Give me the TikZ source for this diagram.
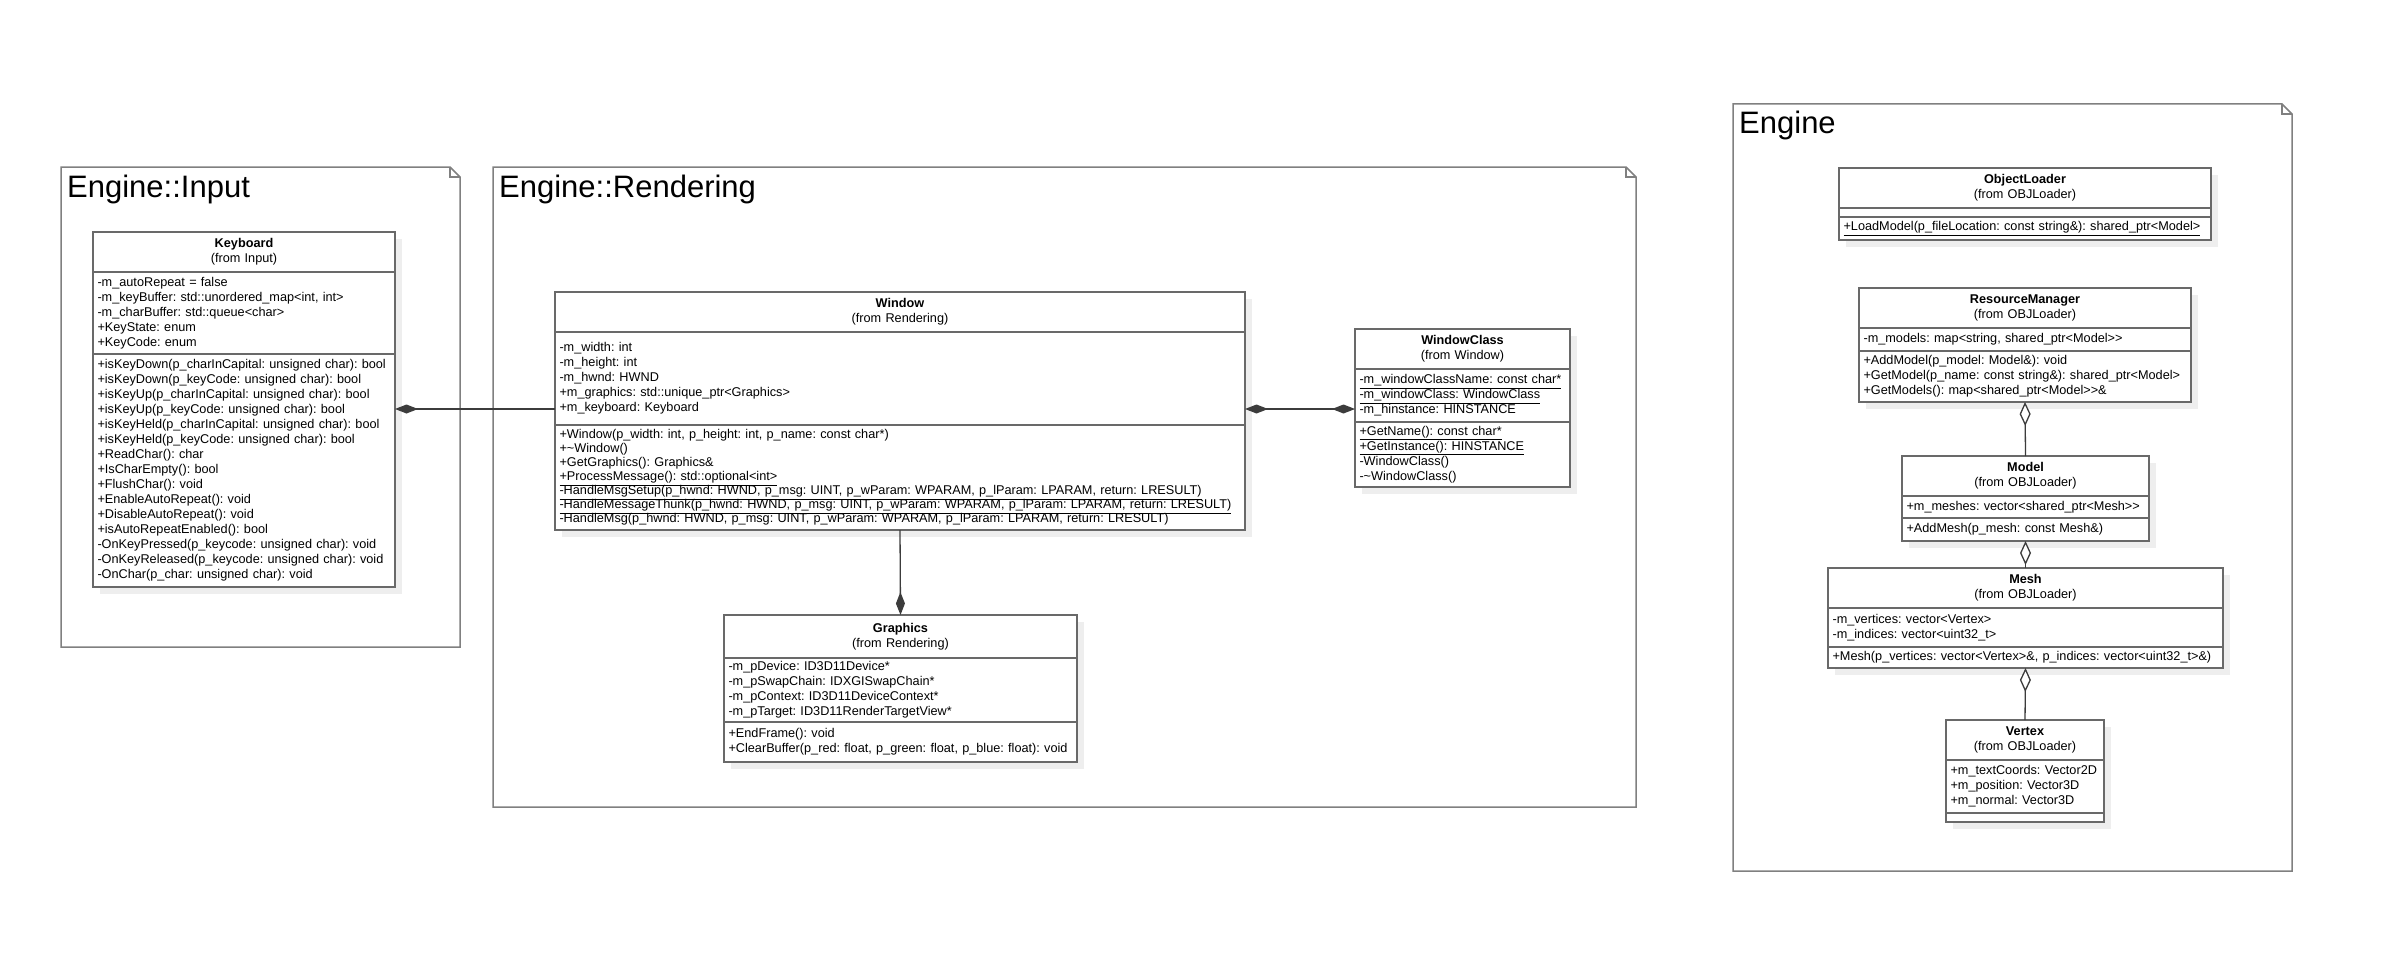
\documentclass[tikz,border=0pt]{standalone}
\usepackage{fontspec}
\setmainfont{Liberation Sans}
\usetikzlibrary{positioning,arrows.meta,shadows}

\definecolor{pkgline}{RGB}{128,128,128}
\definecolor{boxline}{RGB}{105,105,105}
\definecolor{shade}{RGB}{238,238,238}
\definecolor{conn}{RGB}{60,60,60}

\tikzset{
  pkg/.style={draw=pkgline, line width=1.5pt},
  pkgtitle/.style={anchor=base west, inner sep=0pt, font=\fontsize{31}{31}\selectfont},
  part/.style={draw=boxline, line width=1.6pt, fill=white, outer sep=0pt,
    inner xsep=4.5pt, inner ysep=1pt, text width=#1, align=left,
    font=\fontsize{12.7}{15}\selectfont\frenchspacing,
    general shadow={fill=shade, shadow xshift=7pt, shadow yshift=-7pt}},
  head/.style={part=#1, align=center, anchor=north west},
  comp/.style={draw=conn, line width=1.3pt},
  diam/.tip={Diamond[length=23pt,width=9pt]},
  odiam/.tip={Diamond[open,fill=white,length=24pt,width=11pt]}
}

\begin{document}
\begin{tikzpicture}[x=1pt,y=-1pt]
\fill[white] (0,0) rectangle (2389,955);
\useasboundingbox (0,0) rectangle (2389,955);

% packages
\foreach \xa/\ya/\xb/\yb/\title [count=\i] in {61/167/460/647/Engine::Input,
    493/167/1636/807/Engine::Rendering, 1733/104/2292/871/Engine}{
  \draw[pkg] (\xa,\ya) -- (\xb-10,\ya) -- (\xb,\ya+10) -- (\xb,\yb) -- (\xa,\yb) -- cycle;
  \draw[pkg] (\xb-10,\ya) -- (\xb-10,\ya+10) -- (\xb,\ya+10);
  \node[pkgtitle] (pkg\i) at (\xa+6,\ya+30) {\title};
}

% Engine::Input
\node[head=293pt, minimum height=40] (kb) at (93,232) {\textbf{Keyboard}\\(from Input)};
\node[part=293pt, minimum height=82, below=0pt of kb] (kb-a) {-m\_autoRepeat = false\\
-m\_keyBuffer: std::unordered\_map<int, int>\\
-m\_charBuffer: std::queue<char>\\
+KeyState: enum\\
+KeyCode: enum};
\node[part=293pt, minimum height=233, below=0pt of kb-a] (kb-o) {+isKeyDown(p\_charInCapital: unsigned char): bool\\
+isKeyDown(p\_keyCode: unsigned char): bool\\
+isKeyUp(p\_charInCapital: unsigned char): bool\\
+isKeyUp(p\_keyCode: unsigned char): bool\\
+isKeyHeld(p\_charInCapital: unsigned char): bool\\
+isKeyHeld(p\_keyCode: unsigned char): bool\\
+ReadChar(): char\\
+IsCharEmpty(): bool\\
+FlushChar(): void\\
+EnableAutoRepeat(): void\\
+DisableAutoRepeat(): void\\
+isAutoRepeatEnabled(): bool\\
-OnKeyPressed(p\_keycode: unsigned char): void\\
-OnKeyReleased(p\_keycode: unsigned char): void\\
-OnChar(p\_char: unsigned char): void};

% Engine::Rendering
\node[head=681pt, minimum height=40] (win) at (555,292) {\textbf{Window}\\(from Rendering)};
\node[part=681pt, minimum height=93, below=0pt of win] (win-a) {-m\_width: int\\
-m\_height: int\\
-m\_hwnd: HWND\\
+m\_graphics: std::unique\_ptr<Graphics>\\
+m\_keyboard: Keyboard};
\node[part=681pt, minimum height=105, below=0pt of win-a, font=\fontsize{12.7}{14}\selectfont\frenchspacing] (win-o) {+Window(p\_width: int, p\_height: int, p\_name: const char*)\\
+\textasciitilde Window()\\
+GetGraphics(): Graphics\&\\
\underline{+ProcessMessage(): std::optional<int>}\\
\underline{-HandleMsgSetup(p\_hwnd: HWND, p\_msg: UINT, p\_wParam: WPARAM, p\_lParam: LPARAM, return: LRESULT)}\\
\underline{-HandleMessageThunk(p\_hwnd: HWND, p\_msg: UINT, p\_wParam: WPARAM, p\_lParam: LPARAM, return: LRESULT)}\\
-HandleMsg(p\_hwnd: HWND, p\_msg: UINT, p\_wParam: WPARAM, p\_lParam: LPARAM, return: LRESULT)};

\node[head=206pt, minimum height=40] (wc) at (1355,329) {\textbf{WindowClass}\\(from Window)};
\node[part=206pt, minimum height=53, below=0pt of wc] (wc-a) {\underline{-m\_windowClassName: const char*}\\
\underline{-m\_windowClass: WindowClass}\\
-m\_hinstance: HINSTANCE};
\node[part=206pt, minimum height=65, below=0pt of wc-a] (wc-o) {\underline{+GetName(): const char*}\\
\underline{+GetInstance(): HINSTANCE}\\
-WindowClass()\\
-\textasciitilde WindowClass()};

\node[head=344pt, minimum height=43] (gfx) at (724,615) {\textbf{Graphics}\\(from Rendering)};
\node[part=344pt, minimum height=64, below=0pt of gfx] (gfx-a) {-m\_pDevice: ID3D11Device*\\
-m\_pSwapChain: IDXGISwapChain*\\
-m\_pContext: ID3D11DeviceContext*\\
-m\_pTarget: ID3D11RenderTargetView*};
\node[part=344pt, minimum height=40, below=0pt of gfx-a] (gfx-o) {+EndFrame(): void\\
+ClearBuffer(p\_red: float, p\_green: float, p\_blue: float): void};

% Engine
\node[head=363pt, minimum height=40] (ol) at (1839,168) {\textbf{ObjectLoader}\\(from OBJLoader)};
\node[part=363pt, minimum height=9, below=0pt of ol] (ol-a) {};
\node[part=363pt, minimum height=23, below=0pt of ol-a] (ol-o) {\underline{+LoadModel(p\_fileLocation: const string\&): shared\_ptr<Model>}};

\node[head=323pt, minimum height=40] (rm) at (1859,288) {\textbf{ResourceManager}\\(from OBJLoader)};
\node[part=323pt, minimum height=23, below=0pt of rm] (rm-a) {-m\_models: map<string, shared\_ptr<Model>{}>};
\node[part=323pt, minimum height=51, below=0pt of rm-a] (rm-o) {+AddModel(p\_model: Model\&): void\\
+GetModel(p\_name: const string\&): shared\_ptr<Model>\\
+GetModels(): map<shared\_ptr<Model>{}>\&};

\node[head=238pt, minimum height=40] (mdl) at (1902,456) {\textbf{Model}\\(from OBJLoader)};
\node[part=238pt, minimum height=22, below=0pt of mdl] (mdl-a) {+m\_meshes: vector<shared\_ptr<Mesh>{}>};
\node[part=238pt, minimum height=23, below=0pt of mdl-a] (mdl-o) {+AddMesh(p\_mesh: const Mesh\&)};

\node[head=386pt, minimum height=40] (mesh) at (1828,568) {\textbf{Mesh}\\(from OBJLoader)};
\node[part=386pt, minimum height=39, below=0pt of mesh] (mesh-a) {-m\_vertices: vector<Vertex>\\
-m\_indices: vector<uint32\_t>};
\node[part=386pt, minimum height=21, below=0pt of mesh-a] (mesh-o) {+Mesh(p\_vertices: vector<Vertex>\&, p\_indices: vector<uint32\_t>\&)};

\node[head=149pt, minimum height=40] (vtx) at (1946,720) {\textbf{Vertex}\\(from OBJLoader)};
\node[part=149pt, minimum height=53, below=0pt of vtx] (vtx-a) {+m\_textCoords: Vector2D\\
+m\_position: Vector3D\\
+m\_normal: Vector3D};
\node[part=149pt, minimum height=9, below=0pt of vtx-a] (vtx-o) {};

% connectors
\coordinate (row) at (0,409);
\draw[comp, diam-] (kb-o.east |- row) -- (win-a.west |- row);
\draw[comp, diam-diam] (win-a.east |- row) -- (wc-a.west |- row);
\draw[comp, diam-] (gfx.north) -- (win-o.south);
\draw[comp, odiam-] (rm-o.south) -- (mdl.north);
\draw[comp, odiam-] (mdl-o.south) -- (mesh.north);
\draw[comp, odiam-] (mesh-o.south) -- (vtx.north);
\end{tikzpicture}
\end{document}
